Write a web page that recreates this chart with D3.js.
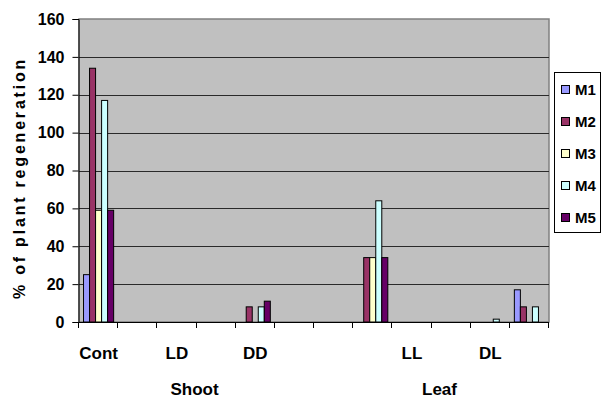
<!DOCTYPE html>
<html>
<head>
<meta charset="utf-8">
<script src="https://cdn.jsdelivr.net/npm/d3@7"></script>
<style>
  html, body { margin: 0; padding: 0; background: #ffffff; }
  svg { display: block; }
  text { font-family: "Liberation Sans", Arial, sans-serif; font-weight: bold; fill: #000; }
</style>
</head>
<body>
<svg id="chart" width="602" height="398"></svg>
<script>
// ---- data ----
const categories = ["Cont", "", "LD", "", "DD", "", "", "", "LL", "", "DL", ""];
const seriesNames = ["M1", "M2", "M3", "M4", "M5"];
const M1 = [25, 0, 0, 0, 0, 0, 0, 0, 0, 0, 0, 17];
const M2 = [134, 0, 0, 0, 8, 0, 0, 34, 0, 0, 0, 8];
const M3 = [59, 0, 0, 0, 0, 0, 0, 34, 0, 0, 0, 0];
const M4 = [117, 0, 0, 0, 8, 0, 0, 64, 0, 0, 1.5, 8];
const M5 = [59, 0, 0, 0, 11, 0, 0, 34, 0, 0, 0, 0];
const yTicks = [0, 20, 40, 60, 80, 100, 120, 140, 160];
const groupLabels = ["Shoot", "Leaf"];
const groupFrom = [0, 6];
const groupTo = [5, 11];
const yTitle = "% of plant regeneration";

// ---- styles ----
const colors = { M1: "#9999FF", M2: "#993366", M3: "#FFFFCC", M4: "#CCFFFF", M5: "#660066" };
const seriesValues = { M1, M2, M3, M4, M5 };

const svg = d3.select("#chart");
const plot = { left: 79, right: 549, top: 19, bottom: 322 };

const x0 = d3.scaleBand().domain(d3.range(categories.length)).range([plot.left, plot.right]).padding(0);
const bw = x0.bandwidth();
const x1 = d3.scaleBand().domain(seriesNames).range([bw * 0.1154, bw * 0.8846]).padding(0);
const y = d3.scaleLinear().domain([0, 160]).range([plot.bottom, plot.top]);

// plot background
svg.append("rect")
  .attr("x", plot.left).attr("y", plot.top)
  .attr("width", plot.right - plot.left).attr("height", plot.bottom - plot.top)
  .attr("fill", "#C0C0C0").attr("stroke", "#808080").attr("stroke-width", 1.5);

// gridlines
svg.append("g").selectAll("line")
  .data(yTicks.filter(d => d > 0 && d < 160))
  .join("line")
  .attr("x1", plot.left).attr("x2", plot.right)
  .attr("y1", d => Math.round(y(d)) + 0.5).attr("y2", d => Math.round(y(d)) + 0.5)
  .attr("stroke", "#2a2a2a").attr("stroke-width", 1);

// bars
const rows = [];
categories.forEach((c, i) => {
  seriesNames.forEach(s => {
    const v = seriesValues[s][i];
    if (v > 0) rows.push({ i, s, v });
  });
});
svg.append("g").selectAll("rect")
  .data(rows)
  .join("rect")
  .attr("x", d => x0(d.i) + x1(d.s))
  .attr("y", d => y(d.v))
  .attr("width", x1.bandwidth())
  .attr("height", d => y(0) - y(d.v))
  .attr("fill", d => colors[d.s])
  .attr("stroke", "#000").attr("stroke-width", 1);

// y axis
const yAxis = d3.axisLeft(y).tickValues(yTicks).tickSize(6).tickPadding(8).tickFormat(d3.format("d"));
const gy = svg.append("g").attr("transform", `translate(${plot.left - 0.5},0)`).call(yAxis);
gy.select(".domain").attr("stroke", "#000");
gy.selectAll(".tick line").attr("stroke", "#000");
gy.selectAll(".tick text").style("font-size", "16px").style("font-weight", "bold")
  .style("font-family", '"Liberation Sans", Arial, sans-serif').attr("fill", "#000");

// x axis (ticks at category boundaries)
const gx = svg.append("g");
gx.append("line").attr("x1", plot.left - 0.5).attr("x2", plot.right)
  .attr("y1", plot.bottom + 0.5).attr("y2", plot.bottom + 0.5).attr("stroke", "#000");
gx.selectAll("line.tk")
  .data(d3.range(categories.length + 1))
  .join("line").attr("class", "tk")
  .attr("x1", d => Math.round(plot.left + d * bw) - 0.5)
  .attr("x2", d => Math.round(plot.left + d * bw) - 0.5)
  .attr("y1", plot.bottom).attr("y2", plot.bottom + 6)
  .attr("stroke", "#000");
gx.selectAll("text.cat")
  .data(categories.map((c, i) => ({ c, i })).filter(d => d.c !== ""))
  .join("text").attr("class", "cat")
  .attr("x", d => x0(d.i) + bw / 2)
  .attr("y", 359)
  .attr("text-anchor", "middle")
  .style("font-size", "17px")
  .text(d => d.c);

// group labels
const groupDx = [-2, 8];
gx.selectAll("text.grp")
  .data(groupLabels.map((g, k) => ({ g, k })))
  .join("text").attr("class", "grp")
  .attr("x", d => (x0(groupFrom[d.k]) + x0(groupTo[d.k]) + bw) / 2 + groupDx[d.k])
  .attr("y", 395)
  .attr("text-anchor", "middle")
  .style("font-size", "17px")
  .text(d => d.g);

// y title
svg.append("text")
  .attr("transform", "translate(25,178) rotate(-90)")
  .attr("text-anchor", "middle")
  .style("font-size", "16px")
  .style("letter-spacing", "2.8px")
  .text(yTitle);

// legend
const lg = svg.append("g");
lg.append("rect").attr("x", 554.5).attr("y", 72.5).attr("width", 46).attr("height", 160)
  .attr("fill", "#fff").attr("stroke", "#000").attr("stroke-width", 1);
const li = lg.selectAll("g.item").data(seriesNames).join("g").attr("class", "item")
  .attr("transform", (d, i) => `translate(0,${90 + i * 32})`);
li.append("rect").attr("x", 561.5).attr("y", -4.5).attr("width", 8).attr("height", 8)
  .attr("fill", d => colors[d]).attr("stroke", "#000").attr("stroke-width", 1);
li.append("text").attr("x", 575).attr("y", 0).attr("dy", "0.36em")
  .style("font-size", "15px").text(d => d);
</script>
</body>
</html>
